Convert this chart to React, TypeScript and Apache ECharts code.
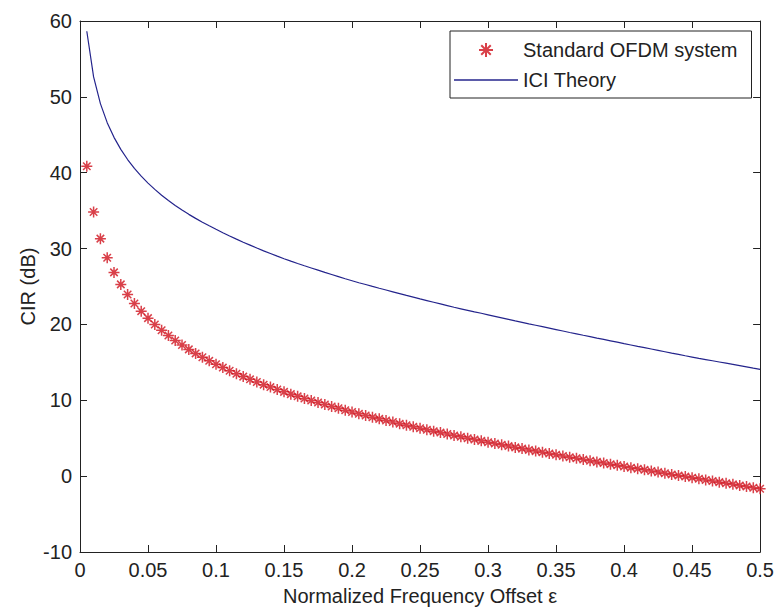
import React, { useEffect, useRef } from "react";
import * as echarts from "echarts";

// Normalized frequency offset values (x)
const EPS = [
  0.005, 0.01, 0.015, 0.02, 0.025, 0.03, 0.035, 0.04, 0.045, 0.05,
  0.055, 0.06, 0.065, 0.07, 0.075, 0.08, 0.085, 0.09, 0.095, 0.1,
  0.105, 0.11, 0.115, 0.12, 0.125, 0.13, 0.135, 0.14, 0.145, 0.15,
  0.155, 0.16, 0.165, 0.17, 0.175, 0.18, 0.185, 0.19, 0.195, 0.2,
  0.205, 0.21, 0.215, 0.22, 0.225, 0.23, 0.235, 0.24, 0.245, 0.25,
  0.255, 0.26, 0.265, 0.27, 0.275, 0.28, 0.285, 0.29, 0.295, 0.3,
  0.305, 0.31, 0.315, 0.32, 0.325, 0.33, 0.335, 0.34, 0.345, 0.35,
  0.355, 0.36, 0.365, 0.37, 0.375, 0.38, 0.385, 0.39, 0.395, 0.4,
  0.405, 0.41, 0.415, 0.42, 0.425, 0.43, 0.435, 0.44, 0.445, 0.45,
  0.455, 0.46, 0.465, 0.47, 0.475, 0.48, 0.485, 0.49, 0.495, 0.5,
];

// "Standard OFDM system" CIR (dB)
const STANDARD = [
  40.85, 34.83, 31.31, 28.8, 26.86, 25.28, 23.94, 22.77, 21.75, 20.83,
  20.0, 19.23, 18.53, 17.88, 17.28, 16.71, 16.18, 15.67, 15.2, 14.74,
  14.31, 13.9, 13.5, 13.12, 12.76, 12.4, 12.06, 11.74, 11.42, 11.11,
  10.81, 10.52, 10.24, 9.97, 9.7, 9.44, 9.19, 8.94, 8.69, 8.46,
  8.22, 8.0, 7.77, 7.55, 7.34, 7.13, 6.92, 6.71, 6.51, 6.31,
  6.12, 5.93, 5.74, 5.55, 5.36, 5.18, 5.0, 4.82, 4.65, 4.47,
  4.3, 4.13, 3.96, 3.79, 3.63, 3.46, 3.3, 3.14, 2.98, 2.82,
  2.66, 2.5, 2.35, 2.19, 2.04, 1.88, 1.73, 1.58, 1.43, 1.27,
  1.12, 0.97, 0.83, 0.68, 0.53, 0.38, 0.23, 0.09, -0.06, -0.2,
  -0.35, -0.5, -0.64, -0.79, -0.93, -1.08, -1.22, -1.37, -1.52, -1.67,
];

// "ICI Theory" CIR (dB)
const THEORY = [
  58.65, 52.63, 49.11, 46.6, 44.66, 43.08, 41.74, 40.57, 39.55, 38.63,
  37.8, 37.03, 36.33, 35.68, 35.08, 34.51, 33.98, 33.47, 33.0, 32.54,
  32.09, 31.66, 31.24, 30.84, 30.46, 30.07, 29.7, 29.35, 29.0, 28.66,
  28.34, 28.03, 27.73, 27.44, 27.15, 26.86, 26.58, 26.3, 26.02, 25.76,
  25.5, 25.26, 25.01, 24.77, 24.54, 24.3, 24.06, 23.82, 23.59, 23.36,
  23.14, 22.92, 22.7, 22.48, 22.26, 22.06, 21.86, 21.66, 21.47, 21.27,
  21.07, 20.87, 20.67, 20.47, 20.28, 20.08, 19.89, 19.7, 19.51, 19.32,
  19.13, 18.94, 18.76, 18.57, 18.39, 18.2, 18.02, 17.84, 17.66, 17.47,
  17.29, 17.11, 16.94, 16.76, 16.58, 16.4, 16.22, 16.05, 15.87, 15.7,
  15.53, 15.37, 15.21, 15.05, 14.89, 14.73, 14.57, 14.41, 14.24, 14.08,
];

const SERIES_NAMES = ["Standard OFDM system", "ICI Theory"];
const X_NAME = "Normalized Frequency Offset ε";
const Y_NAME = "CIR (dB)";

const FONT = '"Liberation Sans", Arial, sans-serif';
const AXIS_COLOR = "#222";
const STAR_COLOR = "#d0101c";
const LINE_COLOR = "#24248c";
const STAR = "path://M0,5L10,5M5,0L5,10M1.6,1.6L8.4,8.4M1.6,8.4L8.4,1.6";
const LEGEND_LINE = "path://M0,0L64,0L64,1.3L0,1.3Z";

export default function App() {
  const ref = useRef<HTMLDivElement>(null);

  useEffect(() => {
    if (!ref.current) return;
    const chart = echarts.init(ref.current, undefined, { renderer: "svg" });

    const axisCommon = {
      axisLine: { show: true, onZero: false, lineStyle: { color: AXIS_COLOR, width: 1 } },
      axisTick: { show: true, inside: true, length: 7, lineStyle: { color: AXIS_COLOR, width: 1 } },
      splitLine: { show: false },
    };
    const labelStyle = { color: AXIS_COLOR, fontSize: 20, fontFamily: FONT, margin: 8 };
    const nameStyle = { color: AXIS_COLOR, fontSize: 20, fontFamily: FONT };

    chart.setOption({
      animation: false,
      backgroundColor: "#ffffff",
      grid: { left: 80, top: 21, right: 12, bottom: 55 },
      legend: {
        orient: "vertical",
        left: 450,
        top: 31,
        itemWidth: 64,
        itemHeight: 14,
        itemGap: 10,
        padding: [9, 14, 8, 4],
        borderColor: AXIS_COLOR,
        borderWidth: 1,
        backgroundColor: "#ffffff",
        textStyle: { fontSize: 20, fontFamily: FONT, color: AXIS_COLOR, lineHeight: 19 },
        data: [
          { name: SERIES_NAMES[0], icon: STAR },
          { name: SERIES_NAMES[1], icon: LEGEND_LINE, itemStyle: { color: LINE_COLOR, borderWidth: 0 } },
        ],
      },
      xAxis: [
        {
          type: "value",
          min: 0,
          max: 0.5,
          interval: 0.05,
          position: "bottom",
          ...axisCommon,
          axisLabel: labelStyle,
          name: X_NAME,
          nameLocation: "middle",
          nameGap: 34,
          nameMoveOverlap: false,
          nameTextStyle: nameStyle,
        },
        {
          type: "value",
          min: 0,
          max: 0.5,
          interval: 0.05,
          position: "top",
          ...axisCommon,
          axisLabel: { show: false },
        },
      ],
      yAxis: [
        {
          type: "value",
          min: -10,
          max: 60,
          interval: 10,
          position: "left",
          ...axisCommon,
          axisLabel: labelStyle,
          name: Y_NAME,
          nameLocation: "middle",
          nameGap: 42,
          nameMoveOverlap: false,
          nameTextStyle: nameStyle,
        },
        {
          type: "value",
          min: -10,
          max: 60,
          interval: 10,
          position: "right",
          ...axisCommon,
          axisLabel: { show: false },
        },
      ],
      series: [
        {
          type: "scatter",
          name: SERIES_NAMES[0],
          xAxisIndex: 0,
          yAxisIndex: 0,
          data: EPS.map((e, i) => [e, STANDARD[i]]),
          symbol: STAR,
          symbolSize: 11,
          itemStyle: { color: "transparent", borderColor: STAR_COLOR, borderWidth: 1.5 },
          z: 3,
        },
        {
          type: "line",
          name: SERIES_NAMES[1],
          xAxisIndex: 0,
          yAxisIndex: 0,
          data: EPS.map((e, i) => [e, THEORY[i]]),
          showSymbol: false,
          symbol: "none",
          lineStyle: { color: LINE_COLOR, width: 1.2 },
          itemStyle: { color: LINE_COLOR },
          z: 2,
        },
      ],
    });

    return () => chart.dispose();
  }, []);

  return (
    <div
      ref={ref}
      style={{ position: "absolute", left: 0, top: 0, width: 777, height: 611, background: "#fff" }}
    />
  );
}
